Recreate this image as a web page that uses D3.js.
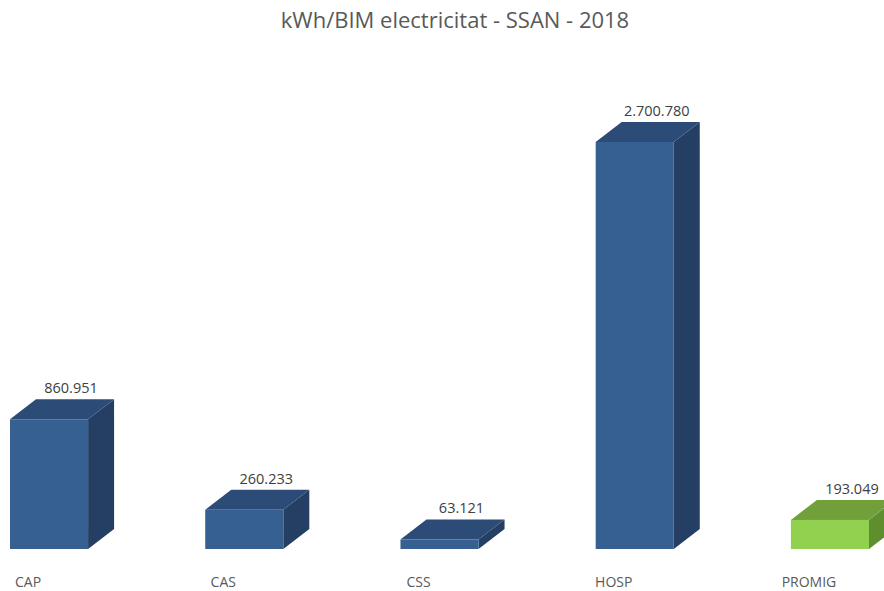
<!DOCTYPE html>
<html>
<head>
<meta charset="utf-8">
<script src="https://cdn.jsdelivr.net/npm/d3@7"></script>
<style>
  html, body { margin: 0; padding: 0; background: #ffffff; }
  svg { display: block; }
  text { font-family: "Open Sans", "Noto Sans", "Liberation Sans", sans-serif; }
</style>
</head>
<body>
<svg id="chart" width="884" height="591"></svg>
<script>
// Chart data
const title = "kWh/BIM electricitat - SSAN - 2018";
const categories = ["CAP", "CAS", "CSS", "HOSP", "PROMIG"];
const values = [860951, 260233, 63121, 2700780, 193049];
const valueLabels = ["860.951", "260.233", "63.121", "2.700.780", "193.049"];
const highlight = ["PROMIG"];

const W = 884, H = 591;
const svg = d3.select("#chart");

// Layout
const baseY = 549;
const depthX = 26, depthY = -20;

const x = d3.scaleBand()
  .domain(categories)
  .range([10, 869])
  .paddingInner(0.6)
  .paddingOuter(0);

const y = d3.scaleLinear()
  .domain([0, 2700780])
  .range([baseY, 142]);

const palette = {
  normal: { front: "#376092", top: "#2C4B77", side: "#243F63" },
  accent: { front: "#92D050", top: "#71A03B", side: "#5F8E2F" }
};

// Title
svg.append("text")
  .attr("x", 455)
  .attr("y", 28)
  .attr("text-anchor", "middle")
  .attr("font-size", 22)
  .attr("fill", "#595959")
  .text(title);

const data = categories.map((c, i) => ({ cat: c, value: values[i], label: valueLabels[i] }));

const bars = svg.append("g").selectAll("g.bar")
  .data(data)
  .join("g")
  .attr("class", "bar");

bars.each(function(d) {
  const g = d3.select(this);
  const c = highlight.includes(d.cat) ? palette.accent : palette.normal;
  const x0 = x(d.cat), x1 = x0 + x.bandwidth();
  const yt = y(d.value), yb = y(0);

  // side face
  g.append("path")
    .attr("d", `M${x1},${yt} L${x1 + depthX},${yt + depthY} L${x1 + depthX},${yb + depthY} L${x1},${yb} Z`)
    .attr("fill", c.side);
  // top face
  g.append("path")
    .attr("d", `M${x0},${yt} L${x0 + depthX},${yt + depthY} L${x1 + depthX},${yt + depthY} L${x1},${yt} Z`)
    .attr("fill", c.top);
  // front face
  g.append("rect")
    .attr("x", x0).attr("y", yt)
    .attr("width", x.bandwidth()).attr("height", yb - yt)
    .attr("fill", c.front);

  // value label above the box
  g.append("text")
    .attr("x", x0 + x.bandwidth() / 2 + 22)
    .attr("y", yt + depthY - 6)
    .attr("text-anchor", "middle")
    .attr("font-size", 14.5)
    .attr("fill", "#404040")
    .text(d.label);
});

// Category labels
svg.append("g").selectAll("text.cat")
  .data(categories)
  .join("text")
  .attr("class", "cat")
  .attr("x", d => x(d) + x.bandwidth() / 2 - 21)
  .attr("y", 587)
  .attr("text-anchor", "middle")
  .attr("font-size", 14)
  .attr("fill", "#595959")
  .text(d => d);
</script>
</body>
</html>
